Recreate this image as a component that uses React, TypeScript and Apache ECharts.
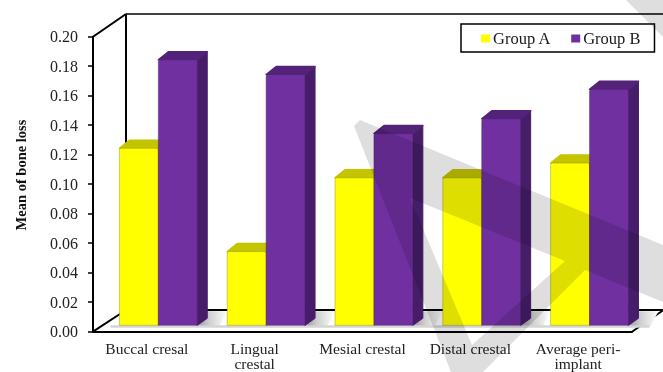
import React, { useEffect, useRef } from "react";
import * as echarts from "echarts";

const categories = ["Buccal cresal", "Lingual\ncrestal", "Mesial crestal", "Distal crestal", "Average peri-\nimplant"];
const groupA = [0.12, 0.05, 0.1, 0.1, 0.11];
const groupB = [0.18, 0.17, 0.13, 0.14, 0.16];
const yTicks = { min: 0, max: 0.2, interval: 0.02 };

const FONT = "'Liberation Serif', 'Times New Roman', serif";
const BLACK = "#000";
const SHADE = "rgba(0,0,0,0.13)";

const makeBar = (which: number) => (_p: any, api: any) => {
  const cat = api.value(0);
  const val = api.value(1);
  const base = api.coord([cat, 0]);
  const top = api.coord([cat, val]);
  const catW = api.size([1, 0])[0];
  const barW = catW * 0.361;
  const left = base[0] - catW / 2 + catW * 0.245 + which * barW;
  const baseY = base[1] - 6.4;
  const topY = top[1] - 6.4;
  const dx = 10;
  const dy = -8;
  const children: any[] = [];
  const colors = which === 0
    ? { front: "#FFFF00", top: "#C4C400", side: "#A0A000", edge: "rgba(130,130,0,0.4)" }
    : { front: "#7030A0", top: "#532379", side: "#461D68", edge: "rgba(70,25,105,0.4)" };
  if (which === 0) {
    const sx = left + 2 * barW;
    children.push({
      type: "polygon",
      shape: { points: [[sx - 2, baseY + 1], [sx + 22, baseY + 1], [sx + 30, baseY - 14], [sx + 8, baseY - 14]] },
      style: {
        fill: new echarts.graphic.LinearGradient(0, 0, 1, 0, [
          { offset: 0, color: "#8f8f8f" },
          { offset: 0.45, color: "#d0d0d0" },
          { offset: 1, color: "#ffffff" },
        ]),
      },
    });
    children.push({
      type: "rect",
      shape: { x: left - 9, y: baseY, width: 2 * barW + 30, height: 2.5 },
      style: { fill: "#d4d4d4" },
    });
  }
  children.push({
    type: "polygon",
    shape: { points: [[left + barW, baseY], [left + barW + dx, baseY + dy + 1], [left + barW + dx, topY + dy], [left + barW, topY]] },
    style: { fill: colors.side, stroke: colors.side, lineWidth: 1, lineJoin: "round" },
  });
  children.push({
    type: "polygon",
    shape: { points: [[left, topY], [left + barW, topY], [left + barW + dx, topY + dy], [left + dx, topY + dy]] },
    style: { fill: colors.top, stroke: colors.top, lineWidth: 1.5, lineJoin: "round" },
  });
  children.push({
    type: "rect",
    shape: { x: left, y: topY, width: barW, height: baseY - topY, r: [2, 2, 0, 0] },
    style: { fill: colors.front, stroke: colors.edge, lineWidth: 1 },
  });
  return { type: "group", children };
};

const line = (x1: number, y1: number, x2: number, y2: number, w = 2) => ({
  type: "line",
  z: 1,
  silent: true,
  shape: { x1, y1, x2, y2 },
  style: { stroke: BLACK, lineWidth: w },
});

export default function App() {
  const ref = useRef<HTMLDivElement>(null);
  useEffect(() => {
    document.body.style.margin = "0";
    document.body.style.background = "#fff";
    const chart = echarts.init(ref.current!, undefined, { renderer: "svg" });
    chart.setOption({
      animation: false,
      backgroundColor: "#fff",
      textStyle: { fontFamily: FONT },
      grid: { left: 93, right: 31, top: 36.7, bottom: 40.3, containLabel: false, outerBoundsMode: "none" },
      legend: {
        left: 461,
        top: 24,
        orient: "horizontal",
        padding: [6, 14, 5, 20],
        borderColor: BLACK,
        borderWidth: 1.5,
        backgroundColor: "#fff",
        itemWidth: 9,
        itemHeight: 8,
        itemGap: 20,
        icon: "rect",
        selectedMode: false,
        textStyle: { fontFamily: FONT, fontSize: 16.5, color: "#1a1a1a", padding: [1, 0, 0, -2] },
        data: ["Group A", "Group B"],
      },
      xAxis: {
        type: "category",
        data: categories,
        axisLine: { lineStyle: { color: BLACK, width: 2 } },
        axisTick: { length: 4, lineStyle: { color: BLACK, width: 1.5 } },
        axisLabel: { interval: 0, margin: 9, fontFamily: FONT, fontSize: 15.5, lineHeight: 15.5, color: "#222" },
      },
      yAxis: {
        type: "value",
        ...yTicks,
        axisLine: { show: true, lineStyle: { color: BLACK, width: 2 } },
        axisTick: { show: true, length: 5, lineStyle: { color: BLACK, width: 1.5 } },
        splitLine: { show: false },
        axisLabel: { margin: 15, fontFamily: FONT, fontSize: 16, color: "#222", formatter: (v: number) => v.toFixed(2) },
      },
      graphic: [
        { type: "polygon", z: 0, silent: true, shape: { points: [[93, 331.7], [632, 331.7], [665, 309.5], [126, 309.5]] }, style: { fill: "#fff" } },
        line(126, 14, 126, 310),
        line(126, 14, 663, 14, 1.6),
        line(93, 36.7, 126, 14),
        line(93, 331.7, 126, 310),
        line(126, 310, 663, 310),
        line(632, 331.7, 665, 309),
        {
          type: "text",
          silent: true,
          x: 21,
          y: 175,
          rotation: Math.PI / 2,
          style: { text: "Mean of bone loss", fontFamily: FONT, fontSize: 14.5, fontWeight: "bold", fill: "#111", align: "center", verticalAlign: "middle" },
        },
        {
          type: "polygon",
          z: 100,
          silent: true,
          shape: {
            points: [[360, 120], [663, 245], [663, 302], [585, 270], [483, 372], [472, 345], [565, 261], [410, 198], [472, 345], [483, 372], [451, 372], [354, 126]],
          },
          style: { fill: SHADE },
        },
        { type: "polygon", z: 100, silent: true, shape: { points: [[626, 0], [663, 0], [663, 37]] }, style: { fill: SHADE } },
      ],
      series: [
        { name: "Group A", type: "custom", itemStyle: { color: "#FFFF00" }, renderItem: makeBar(0), encode: { x: 0, y: 1 }, data: groupA.map((v, i) => [i, v]) },
        { name: "Group B", type: "custom", itemStyle: { color: "#7030A0" }, renderItem: makeBar(1), encode: { x: 0, y: 1 }, data: groupB.map((v, i) => [i, v]) },
      ],
    });
    return () => chart.dispose();
  }, []);
  return (
    <div
      ref={ref}
      style={{ position: "absolute", left: 0, top: 0, width: 663, height: 372, overflow: "hidden", filter: "blur(0.4px)" }}
    />
  );
}
